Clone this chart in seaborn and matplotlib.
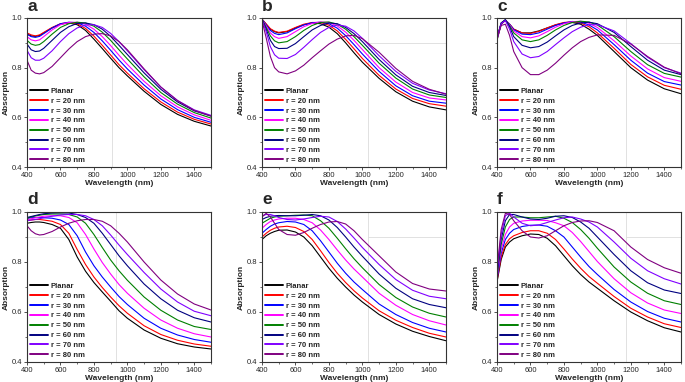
import matplotlib
matplotlib.use("Agg")
import matplotlib.pyplot as plt
import pandas as pd
import seaborn as sns
from matplotlib.lines import Line2D
from matplotlib.ticker import MultipleLocator

# Wavelength grid (nm) and series names
wavelength = [400, 425, 450, 475, 500, 550, 600, 650, 700, 750,
              800, 850, 900, 950, 1000, 1100, 1200, 1300, 1400, 1500]
series_labels = ["Planar", "r = 20 nm", "r = 30 nm", "r = 40 nm",
                 "r = 50 nm", "r = 60 nm", "r = 70 nm", "r = 80 nm"]
panel_letters = ["a", "b", "c", "d", "e", "f"]

# Absorption, one row per series (Planar, r=20 ... r=80)
panel_a = [
    [.935, .928, .926, .930, .940, .960, .975, .980, .973, .950, .915, .877, .838, .800, .767, .705, .652, .612, .584, .565],
    [.940, .932, .928, .932, .942, .962, .977, .982, .977, .958, .927, .890, .851, .812, .778, .715, .662, .621, .592, .573],
    [.935, .925, .922, .926, .937, .960, .977, .983, .981, .967, .942, .908, .870, .831, .795, .730, .674, .631, .600, .580],
    [.925, .912, .908, .912, .925, .952, .973, .982, .983, .975, .955, .925, .889, .850, .813, .745, .687, .642, .610, .588],
    [.910, .895, .890, .893, .905, .935, .962, .977, .983, .980, .967, .943, .910, .872, .835, .763, .700, .653, .619, .597],
    [.895, .872, .865, .867, .878, .910, .942, .965, .978, .980, .973, .955, .926, .890, .853, .779, .713, .662, .626, .605],
    [.870, .840, .830, .830, .838, .868, .905, .937, .960, .972, .973, .962, .938, .905, .868, .792, .722, .668, .630, .608],
    [.830, .790, .778, .775, .780, .805, .840, .875, .905, .925, .935, .937, .928, .905, .872, .795, .722, .667, .628, .605],
]
panel_b = [
    [.995, .975, .955, .945, .940, .945, .960, .973, .980, .977, .963, .937, .900, .860, .822, .757, .703, .665, .642, .630],
    [.995, .976, .957, .947, .942, .947, .962, .975, .982, .982, .971, .948, .914, .876, .837, .769, .714, .676, .655, .645],
    [.995, .972, .950, .938, .933, .940, .957, .972, .981, .983, .977, .959, .929, .893, .855, .785, .727, .687, .665, .657],
    [.995, .968, .940, .925, .918, .925, .945, .965, .978, .984, .982, .968, .943, .910, .873, .800, .742, .700, .678, .670],
    [.995, .962, .928, .908, .900, .905, .925, .950, .970, .982, .984, .975, .955, .925, .890, .818, .758, .714, .690, .680],
    [.995, .955, .910, .885, .877, .878, .897, .925, .952, .970, .980, .977, .962, .937, .905, .833, .771, .725, .700, .688],
    [.993, .945, .885, .852, .838, .837, .853, .882, .913, .942, .962, .972, .967, .948, .918, .848, .785, .737, .710, .695],
    [.990, .920, .845, .800, .783, .775, .787, .810, .840, .868, .895, .915, .928, .930, .917, .862, .797, .745, .713, .693],
]
panel_c = [
    [.910, .975, .990, .975, .955, .940, .940, .948, .960, .972, .980, .982, .975, .955, .930, .865, .800, .750, .715, .695],
    [.915, .977, .990, .975, .955, .940, .938, .946, .960, .973, .982, .985, .980, .965, .940, .878, .813, .763, .729, .713],
    [.915, .977, .992, .975, .953, .935, .933, .940, .955, .970, .980, .986, .984, .972, .952, .893, .830, .778, .744, .730],
    [.915, .978, .993, .973, .948, .925, .920, .928, .945, .963, .977, .985, .987, .979, .962, .908, .847, .795, .760, .745],
    [.920, .980, .993, .970, .940, .912, .905, .912, .930, .952, .970, .982, .987, .984, .972, .925, .865, .812, .777, .762],
    [.920, .980, .993, .965, .925, .890, .880, .885, .903, .928, .952, .970, .980, .983, .977, .942, .885, .830, .790, .772],
    [.920, .978, .990, .955, .905, .855, .840, .845, .865, .893, .920, .945, .963, .973, .973, .948, .897, .842, .800, .778],
    [.920, .970, .975, .930, .865, .800, .772, .772, .790, .818, .850, .880, .905, .922, .932, .930, .895, .845, .802, .775],
]
panel_d = [
    [.955, .958, .960, .960, .958, .950, .935, .890, .820, .763, .718, .680, .643, .605, .575, .528, .495, .473, .460, .452],
    [.965, .968, .970, .970, .968, .963, .950, .915, .850, .790, .740, .698, .660, .625, .595, .545, .510, .487, .472, .463],
    [.975, .977, .978, .978, .977, .975, .968, .950, .905, .840, .785, .740, .700, .662, .630, .575, .535, .508, .490, .479],
    [.968, .973, .977, .980, .983, .985, .985, .978, .957, .910, .852, .798, .752, .710, .675, .615, .568, .535, .513, .500],
    [.975, .980, .984, .987, .990, .992, .992, .990, .980, .955, .910, .858, .808, .765, .727, .660, .607, .568, .542, .530],
    [.978, .982, .986, .990, .993, .996, .997, .996, .990, .978, .955, .915, .870, .825, .785, .712, .653, .607, .577, .560],
    [.965, .968, .970, .973, .977, .983, .988, .990, .990, .985, .970, .945, .908, .868, .830, .758, .692, .640, .603, .585],
    [.945, .925, .913, .908, .910, .922, .940, .955, .965, .970, .970, .963, .945, .915, .880, .800, .728, .672, .632, .608],
]
panel_e = [
    [.890, .905, .915, .922, .927, .928, .920, .900, .865, .820, .775, .735, .700, .668, .640, .590, .552, .523, .502, .485],
    [.900, .915, .927, .935, .940, .943, .938, .922, .890, .845, .798, .755, .718, .685, .656, .605, .567, .538, .515, .500],
    [.915, .930, .943, .952, .957, .962, .960, .950, .925, .885, .840, .795, .755, .720, .690, .632, .590, .558, .535, .520],
    [.935, .950, .962, .968, .972, .975, .975, .970, .957, .928, .890, .848, .808, .772, .740, .675, .627, .590, .565, .548],
    [.955, .965, .975, .980, .983, .985, .987, .988, .985, .965, .935, .895, .853, .813, .777, .710, .658, .620, .595, .580],
    [.970, .978, .983, .985, .986, .985, .985, .987, .990, .985, .968, .938, .900, .860, .823, .752, .695, .653, .630, .617],
    [.985, .990, .990, .985, .978, .970, .968, .972, .978, .983, .980, .962, .932, .896, .858, .790, .730, .687, .663, .653],
    [.980, .995, .980, .955, .930, .910, .907, .918, .935, .950, .960, .962, .952, .925, .890, .825, .760, .714, .692, .684],
]
panel_f = [
    [.720, .810, .860, .880, .893, .905, .912, .910, .895, .865, .825, .785, .750, .720, .695, .645, .600, .565, .537, .520],
    [.725, .820, .870, .893, .905, .918, .925, .925, .915, .890, .852, .812, .775, .742, .715, .662, .615, .580, .553, .538],
    [.730, .835, .890, .915, .930, .942, .947, .948, .943, .925, .900, .860, .820, .782, .750, .690, .640, .602, .575, .560],
    [.740, .850, .910, .940, .955, .964, .967, .967, .966, .957, .945, .918, .882, .842, .802, .733, .677, .636, .608, .594],
    [.745, .870, .940, .970, .980, .980, .977, .977, .980, .983, .975, .958, .930, .895, .855, .780, .720, .675, .645, .630],
    [.750, .890, .965, .990, .990, .980, .972, .970, .975, .983, .985, .978, .960, .935, .900, .830, .765, .717, .688, .674],
    [.760, .910, .985, .995, .980, .955, .945, .948, .958, .968, .977, .980, .972, .960, .940, .880, .815, .765, .733, .712],
    [.770, .930, .995, .990, .965, .925, .900, .896, .905, .925, .945, .958, .964, .965, .958, .925, .860, .810, .777, .755],
]
panels = [panel_a, panel_b, panel_c, panel_d, panel_e, panel_f]

# faint crosshair seen in each panel: vertical line position and the side
# of it on which the 0.9 horizontal line runs
vline_at = [910, 1035, 1170, 930, 1035, 1170]
hline_side = ["right", "right", "right", "left", "right", "right"]

colors = ["#000000", "#FF0000", "#0000FF", "#FF00FF",
          "#008000", "#000080", "#8000FF", "#800080"]

sns.set_style("ticks")
plt.rcParams["font.family"] = ["Liberation Sans", "DejaVu Sans"]

W, H = 685, 382
fig = plt.figure(figsize=(W / 100, H / 100), dpi=100)
lefts = [27, 262, 497]
rows = [(18, 167), (212, 362)]
width = 184

for i, (letter, data) in enumerate(zip(panel_letters, panels)):
    r, c = divmod(i, 3)
    top, bottom = rows[r]
    ax = fig.add_axes([lefts[c] / W, 1 - bottom / H, width / W, (bottom - top) / H])

    df = pd.DataFrame(
        [(w, v, lab) for lab, vals in zip(series_labels, data) for w, v in zip(wavelength, vals)],
        columns=["wavelength", "absorption", "series"],
    )
    # crosshair
    ax.axvline(vline_at[i], color="#dcdcdc", lw=0.6, zorder=0)
    if hline_side[i] == "right":
        ax.hlines(0.9, vline_at[i], 1500, color="#dcdcdc", lw=0.6, zorder=0)
    else:
        ax.hlines(0.9, 400, vline_at[i], color="#dcdcdc", lw=0.6, zorder=0)

    sns.lineplot(data=df, x="wavelength", y="absorption", hue="series",
                 hue_order=series_labels, palette=colors, linewidth=0.8,
                 legend=False, ax=ax)

    ax.set_xlim(400, 1500)
    ax.set_ylim(0.4, 1.0)
    ax.set_xticks([400, 600, 800, 1000, 1200, 1400])
    ax.set_yticks([0.4, 0.6, 0.8, 1.0])
    ax.xaxis.set_minor_locator(MultipleLocator(100))
    ax.yaxis.set_minor_locator(MultipleLocator(0.1))
    ax.tick_params(which="major", labelsize=5.5, length=2.5, width=0.6, pad=1, color="#333333")
    ax.tick_params(which="minor", length=1.5, width=0.5, color="#333333")
    for sp in ax.spines.values():
        sp.set_color("#333333")
        sp.set_linewidth(0.8)

    ax.set_xlabel("Wavelength (nm)", fontsize=6, fontweight="bold", labelpad=1)
    ax.set_ylabel("Absorption", fontsize=6, fontweight="bold", labelpad=1)
    ax.text(0.0, 1.05, letter, transform=ax.transAxes, fontsize=12.5,
            fontweight="bold", va="baseline", ha="left")

    handles = [Line2D([], [], color=col, lw=1.4) for col in colors]
    ax.legend(handles, series_labels, loc="lower left", bbox_to_anchor=(0, 0),
              frameon=False, prop={"weight": "bold", "size": 5.5},
              handlelength=2.3, handletextpad=0.4, labelspacing=0.33,
              borderaxespad=0.2, borderpad=0.2)

fig.savefig("out.png", dpi=100)
